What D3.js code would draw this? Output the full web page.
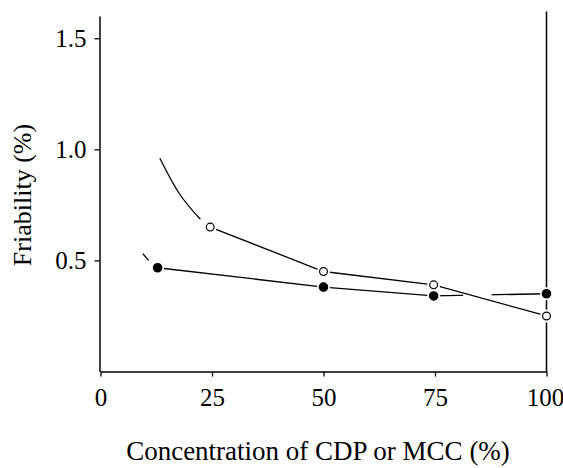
<!DOCTYPE html>
<html>
<head>
<meta charset="utf-8">
<script src="https://cdn.jsdelivr.net/npm/d3@7"></script>
<style>
  body { margin: 0; background: #fff; }
  text { font-family: "Liberation Serif", "Times New Roman", serif; fill: #000; }
</style>
</head>
<body>
<script>
// values
const xTicks = [0, 25, 50, 75, 100];
const yTicks = [0.5, 1.0, 1.5];

// open circles
const openX = [24.6, 50, 74.7, 100];
const openY = [0.65, 0.45, 0.39, 0.25];
// curved lead-in before the first open circle
const openLeadX = [13.3, 17.7, 22.4];
const openLeadY = [0.96, 0.80, 0.685];

// filled circles
const filledX = [12.8, 50, 74.7, 100];
const filledY = [0.467, 0.38, 0.34, 0.35];
const filledLeadX = [9.5, 10.8];
const filledLeadY = [0.53, 0.50];
// break in the filled line where the other line crosses it
const filledGap = [81.3, 87.7];

const width = 563, height = 468;
const svg = d3.select('body').append('svg').attr('width', width).attr('height', height)

const x = d3.scaleLinear().domain([0, 100]).range([100.5, 546.5]);
const y = d3.scaleLinear().domain([0, 1.6]).range([371.5, 16]);

//axes
const yAxis = svg.append('g').attr('transform', 'translate(99.5,0)')
    .call(d3.axisLeft(y).tickValues(yTicks).tickFormat(d3.format('.1f')).tickSize(5).tickSizeOuter(0).tickPadding(8))
const xAxis = svg.append('g').attr('transform', 'translate(0,371.5)')
    .call(d3.axisBottom(x).tickValues(xTicks).tickSize(5).tickSizeOuter(0).tickPadding(12))

svg.selectAll('.domain').attr('stroke', '#000').attr('stroke-width', 1.5)
svg.selectAll('.tick line').attr('stroke', '#000').attr('stroke-width', 1.3)
svg.selectAll('.tick text').attr('font-size', 25).attr('font-family', '"Liberation Serif", serif').attr('fill', '#000')
// keep the last label inside the window
xAxis.selectAll('.tick text').filter(d => d === 100).attr('dx', -1.5)

// right hand vertical line at 100
svg.append('line')
    .attr('x1', x(100)).attr('x2', x(100))
    .attr('y1', y(1.62)).attr('y2', y(0))
    .attr('stroke', '#000').attr('stroke-width', 1.5)

//lines
const zip = (a, b) => a.map((v, i) => [v, b[i]])
const straight = d3.line().x(d => x(d[0])).y(d => y(d[1]))
const curved = d3.line().x(d => x(d[0])).y(d => y(d[1])).curve(d3.curveNatural)

const lineStyle = sel => sel.attr('fill', 'none').attr('stroke', '#000').attr('stroke-width', 1.3)

svg.append('path').attr('d', straight(zip(filledX, filledY))).call(lineStyle)
svg.append('path').attr('d', straight(zip(filledLeadX, filledLeadY))).call(lineStyle)

// knock out the gap in the filled line
const gapY = y(filledY[2])
svg.append('rect')
    .attr('x', x(filledGap[0])).attr('width', x(filledGap[1]) - x(filledGap[0]))
    .attr('y', gapY - 5).attr('height', 10)
    .attr('fill', '#fff')

svg.append('path').attr('d', straight(zip(openX, openY))).call(lineStyle)
svg.append('path').attr('d', curved(zip(openLeadX, openLeadY))).call(lineStyle)

//markers with a white halo so lines stop short of them
const markers = [
    ...zip(openX, openY).map(d => ({p: d, filled: false})),
    ...zip(filledX, filledY).map(d => ({p: d, filled: true}))
]
svg.selectAll('circle.halo').data(markers).enter().append('circle')
    .attr('class', 'halo')
    .attr('cx', d => x(d.p[0])).attr('cy', d => y(d.p[1]))
    .attr('r', 6.5).attr('fill', '#fff')
svg.selectAll('circle.mark').data(markers).enter().append('circle')
    .attr('class', 'mark')
    .attr('cx', d => x(d.p[0])).attr('cy', d => y(d.p[1]))
    .attr('r', d => d.filled ? 4.2 : 3.9)
    .attr('fill', d => d.filled ? '#000' : '#fff')
    .attr('stroke', '#000').attr('stroke-width', 1.2)

//axis titles
svg.append('text')
    .attr('x', 318).attr('y', 460)
    .attr('text-anchor', 'middle')
    .attr('font-size', 27)
    .text('Concentration of CDP or MCC (%)')

svg.append('text')
    .attr('transform', 'translate(31,195) rotate(-90)')
    .attr('text-anchor', 'middle')
    .attr('font-size', 26)
    .text('Friability (%)')
</script>
</body>
</html>
